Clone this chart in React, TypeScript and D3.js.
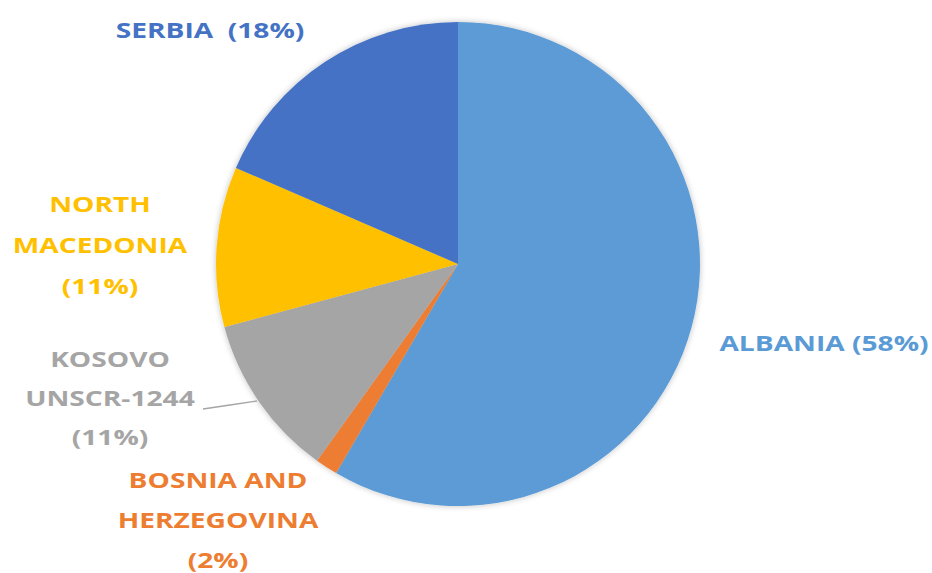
import React from "react";
import * as d3 from "d3";

const categories = ["ALBANIA", "BOSNIA AND HERZEGOVINA", "KOSOVO UNSCR-1244", "NORTH MACEDONIA", "SERBIA"];
const values = [58.4, 1.5, 10.9, 10.7, 18.5];
const percentLabels = ["58%", "2%", "11%", "11%", "18%"];
const labelLines: string[][] = [
  ["ALBANIA (58%)"],
  ["BOSNIA AND", "HERZEGOVINA", "(2%)"],
  ["KOSOVO", "UNSCR-1244", "(11%)"],
  ["NORTH", "MACEDONIA", "(11%)"],
  ["SERBIA\u00A0 (18%)"],
];
const colors = ["#5B9BD5", "#ED7D31", "#A5A5A5", "#FFC000", "#4472C4"];

// label placement (layout, not data)
const labelPos = [
  { x: 824, y: 343, gap: 40 },
  { x: 218, y: 480, gap: 40 },
  { x: 110, y: 359, gap: 39 },
  { x: 100, y: 204, gap: 41 },
  { x: 210, y: 30, gap: 40 },
];

const W = 932, H = 573;
const cx = 458, cy = 264, R = 242;
const SX = 1.28;

export default function App() {
  const pie = d3.pie<number>().sort(null).value((d) => d)(values);
  const arc = d3.arc<d3.PieArcDatum<number>>().innerRadius(0).outerRadius(R);
  return (
    <svg width={W} height={H} style={{ position: "absolute", left: 0, top: 0 }}
      fontFamily="'Open Sans', sans-serif" fontWeight={700}>
      <defs>
        <filter id="sh" x="-20%" y="-20%" width="140%" height="140%">
          <feGaussianBlur in="SourceAlpha" stdDeviation="3" />
          <feComponentTransfer><feFuncA type="linear" slope="0.25" /></feComponentTransfer>
          <feMerge><feMergeNode /><feMergeNode in="SourceGraphic" /></feMerge>
        </filter>
      </defs>
      <rect width={W} height={H} fill="#fff" />
      <g transform={`translate(${cx},${cy})`} filter="url(#sh)">
        {pie.map((p, i) => (
          <path key={categories[i]} d={arc(p) || ""} fill={colors[i]} />
        ))}
      </g>
      <polyline points="203,409 230,405 257,401" fill="none" stroke="#A5A5A5" strokeWidth={1.3} />
      {labelLines.map((lines, i) => (
        <g key={i} transform={`translate(${labelPos[i].x},${labelPos[i].y}) scale(${SX},1)`}>
          <text textAnchor="middle" fill={colors[i]} fontSize={22}>
            {lines.map((l, j) => (
              <tspan key={j} x={0} y={j * labelPos[i].gap} dy="0.35em">{l}</tspan>
            ))}
          </text>
        </g>
      ))}
    </svg>
  );
}
